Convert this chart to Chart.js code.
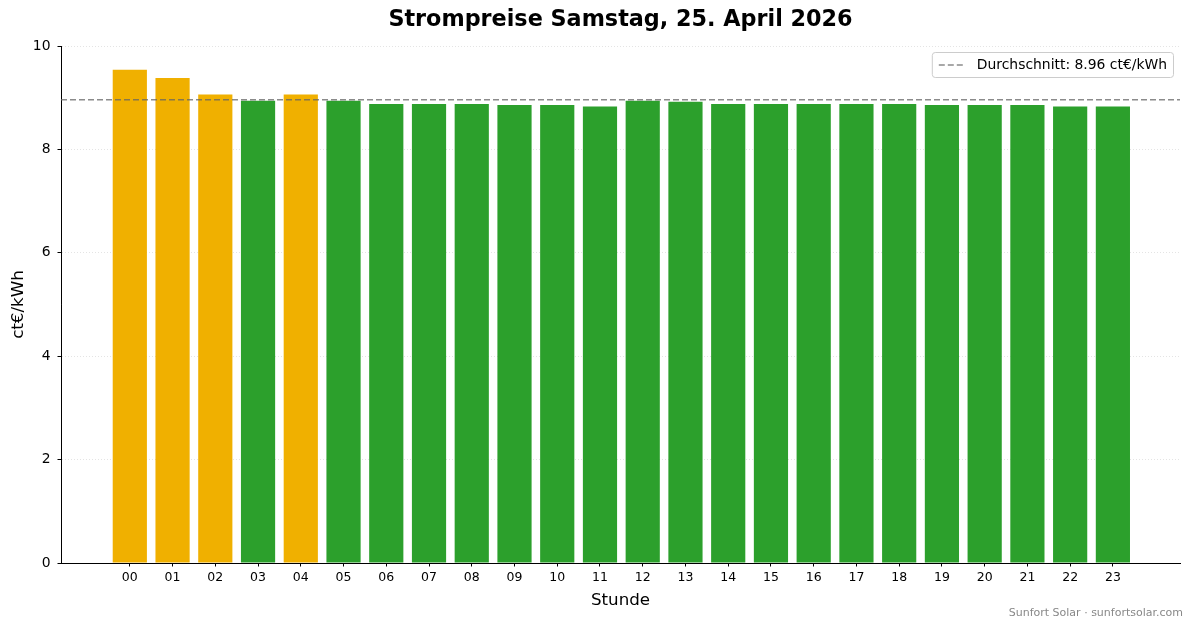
<!DOCTYPE html>
<html lang="de">
<head>
<meta charset="utf-8">
<title>Strompreise Samstag, 25. April 2026</title>
<script src="https://cdn.jsdelivr.net/npm/chart.js@4.4.1/dist/chart.umd.min.js"></script>
<style>
  html, body { margin: 0; padding: 0; background: #fff; }
  #wrap { width: 1193px; height: 628px; }
</style>
</head>
<body>
<div id="wrap"><canvas id="chart" width="1193" height="628"></canvas></div>
<script>
/* ---------- data ---------- */
const hours   = ['00','01','02','03','04','05','06','07','08','09','10','11',
                 '12','13','14','15','16','17','18','19','20','21','22','23'];
const prices  = [9.54, 9.38, 9.06, 8.94, 9.06, 8.94, 8.88, 8.88, 8.88, 8.86, 8.86, 8.83,
                 8.94, 8.92, 8.88, 8.88, 8.88, 8.88, 8.88, 8.86, 8.86, 8.86, 8.83, 8.83];
const average = 8.96;
const yTicks  = [0, 2, 4, 6, 8, 10];
const xRange  = [-1.61, 24.57];   // matplotlib-style side margins

const ORANGE = '#f0b000';
const GREEN  = '#2ca02c';
const FONT   = "'DejaVu Sans', sans-serif";
const TITLE  = 'Strompreise Samstag, 25. April 2026';

/* ---------- plugins ---------- */

// title centred over the plot area (like matplotlib)
const plotTitle = {
  id: 'plotTitle',
  afterDraw(chart) {
    const { ctx, chartArea } = chart;
    ctx.save();
    ctx.font = 'bold 22.3px ' + FONT;
    ctx.fillStyle = '#000';
    ctx.textAlign = 'center';
    ctx.textBaseline = 'middle';
    ctx.fillText(TITLE, (chartArea.left + chartArea.right) / 2, 20);
    ctx.restore();
  }
};

// legend box inside the plot, top right
const avgLegend = {
  id: 'avgLegend',
  afterDatasetsDraw(chart) {
    const { ctx, chartArea } = chart;
    const ds = chart.data.datasets[1];
    ctx.save();
    ctx.font = '13.9px ' + FONT;
    const tw = ctx.measureText(ds.label).width;
    const w = 7 + 25 + 13 + tw + 6;
    const h = 25;
    const x = chartArea.right - 7 - w;
    const y = chartArea.top + 6;
    ctx.fillStyle = 'rgba(255,255,255,0.85)';
    ctx.strokeStyle = '#cccccc';
    ctx.lineWidth = 1;
    ctx.beginPath();
    ctx.roundRect(x + 0.5, y + 0.5, w, h, 3);
    ctx.fill();
    ctx.stroke();
    // sample line
    ctx.strokeStyle = ds.borderColor;
    ctx.lineWidth = ds.borderWidth;
    ctx.setLineDash(ds.borderDash);
    ctx.beginPath();
    ctx.moveTo(x + 7, y + h / 2 + 0.5);
    ctx.lineTo(x + 32, y + h / 2 + 0.5);
    ctx.stroke();
    ctx.setLineDash([]);
    ctx.fillStyle = '#000';
    ctx.textBaseline = 'middle';
    ctx.fillText(ds.label, x + 45, y + h / 2 + 1);
    ctx.restore();
  }
};

// small source note, bottom right
const footer = {
  id: 'footer',
  afterDraw(chart) {
    const { ctx } = chart;
    ctx.save();
    ctx.font = '11px ' + FONT;
    ctx.fillStyle = '#888888';
    ctx.textAlign = 'right';
    ctx.textBaseline = 'middle';
    ctx.fillText('Sunfort Solar · sunfortsolar.com', 1183, 613);
    ctx.restore();
  }
};

/* ---------- chart ---------- */
new Chart(document.getElementById('chart'), {
  type: 'bar',
  data: {
    datasets: [
      {
        label: 'Preis',
        data: prices.map((v, i) => ({ x: i, y: v })),
        backgroundColor: prices.map(v => v > average ? ORANGE : GREEN),
        categoryPercentage: 1,
        barPercentage: 0.8,
        order: 1
      },
      {
        type: 'line',
        label: 'Durchschnitt: ' + average.toFixed(2) + ' ct€/kWh',
        data: xRange.map(x => ({ x, y: average })),
        borderColor: 'rgba(100,100,100,0.75)',
        borderWidth: 1.5,
        borderDash: [6, 3],
        pointRadius: 0,
        fill: false,
        order: 0
      }
    ]
  },
  options: {
    responsive: false,
    animation: false,
    devicePixelRatio: 1,
    layout: { padding: { top: 46, right: 13, bottom: 0, left: 0 } },
    plugins: {
      legend: { display: false },
      tooltip: { enabled: false },
      title: { display: false }
    },
    scales: {
      x: {
        type: 'linear',
        min: xRange[0],
        max: xRange[1],
        offset: false,
        z: 1,
        afterBuildTicks: axis => {
          axis.ticks = hours.map((h, i) => ({ value: i }));
        },
        afterFit: s => { s.height = 65; },
        ticks: {
          autoSkip: false,
          maxRotation: 0,
          padding: 3.5,
          color: '#000',
          font: { family: FONT, size: 12.5 },
          callback: v => hours[v]
        },
        grid: {
          offset: false,
          drawOnChartArea: false,
          tickLength: 3.5,
          tickColor: '#000'
        },
        border: { color: '#000', width: 1 },
        title: {
          display: true,
          text: 'Stunde',
          color: '#000',
          font: { family: FONT, size: 16.7 },
          padding: { top: 4, bottom: 17 }
        }
      },
      y: {
        min: yTicks[0],
        max: yTicks[yTicks.length - 1],
        afterBuildTicks: axis => {
          axis.ticks = yTicks.map(v => ({ value: v }));
        },
        afterFit: s => { s.width = 61; },
        ticks: {
          padding: 7,
          color: '#000',
          font: { family: FONT, size: 13.9 }
        },
        grid: {
          color: '#dddddd',
          lineWidth: 0.8,
          tickLength: 3.5,
          tickColor: '#000',
          tickWidth: 1
        },
        border: { color: '#000', width: 1, dash: [1, 2] },
        title: {
          display: true,
          text: 'ct€/kWh',
          color: '#000',
          font: { family: FONT, size: 16.7 },
          padding: { top: 9, bottom: 4 }
        }
      }
    }
  },
  plugins: [plotTitle, avgLegend, footer]
});
</script>
</body>
</html>
